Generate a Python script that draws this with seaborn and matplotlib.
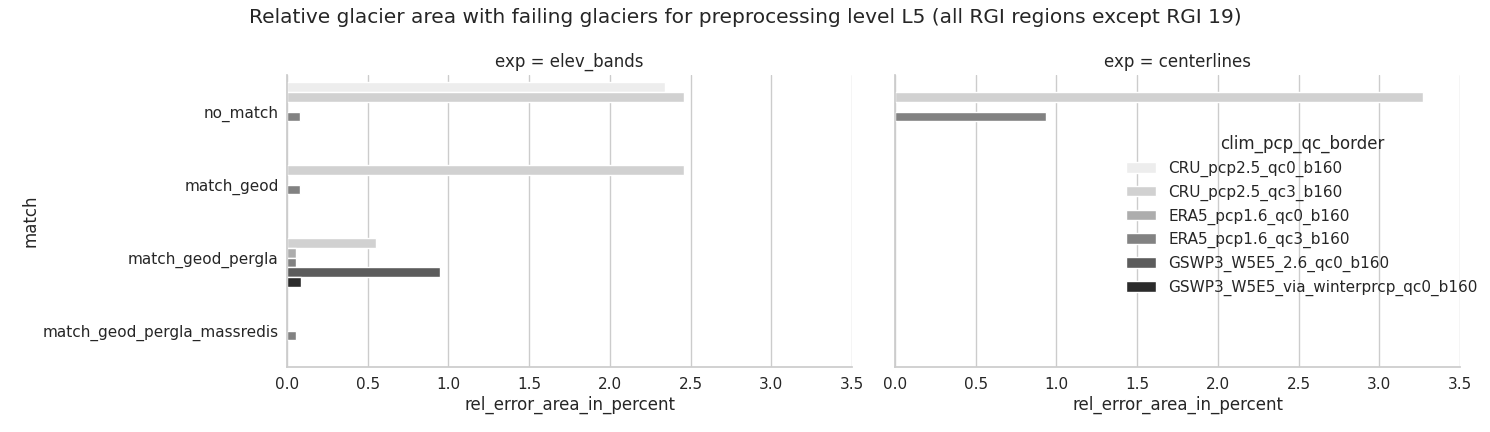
import matplotlib
matplotlib.use("Agg")
import matplotlib.pyplot as plt
import seaborn as sns
import pandas as pd

match_order = ["no_match", "match_geod", "match_geod_pergla", "match_geod_pergla_massredis"]
hue_order = ["CRU_pcp2.5_qc0_b160", "CRU_pcp2.5_qc3_b160", "ERA5_pcp1.6_qc0_b160",
             "ERA5_pcp1.6_qc3_b160", "GSWP3_W5E5_2.6_qc0_b160", "GSWP3_W5E5_via_winterprcp_qc0_b160"]
exp_order = ["elev_bands", "centerlines"]

match = ["no_match", "no_match", "no_match",
         "match_geod", "match_geod",
         "match_geod_pergla", "match_geod_pergla", "match_geod_pergla",
         "match_geod_pergla", "match_geod_pergla",
         "match_geod_pergla_massredis",
         "no_match", "no_match"]
clim = ["CRU_pcp2.5_qc0_b160", "CRU_pcp2.5_qc3_b160", "ERA5_pcp1.6_qc3_b160",
        "CRU_pcp2.5_qc3_b160", "ERA5_pcp1.6_qc3_b160",
        "CRU_pcp2.5_qc3_b160", "ERA5_pcp1.6_qc0_b160", "ERA5_pcp1.6_qc3_b160",
        "GSWP3_W5E5_2.6_qc0_b160", "GSWP3_W5E5_via_winterprcp_qc0_b160",
        "ERA5_pcp1.6_qc3_b160",
        "CRU_pcp2.5_qc3_b160", "ERA5_pcp1.6_qc3_b160"]
rel_error = [2.34, 2.46, 0.078,
             2.46, 0.078,
             0.549, 0.053, 0.053, 0.945, 0.085,
             0.053,
             3.27, 0.934]
exp = ["elev_bands"] * 11 + ["centerlines"] * 2

df = pd.DataFrame({"exp": exp, "match": match, "clim_pcp_qc_border": clim,
                   "rel_error_area_in_percent": rel_error})

sns.set_theme(style="whitegrid")
plt.rcParams["ytick.major.pad"] = 0
plt.rcParams["xtick.major.pad"] = 1.3
plt.rcParams["axes.labelpad"] = 2.5
g = sns.catplot(data=df, kind="bar", y="match", x="rel_error_area_in_percent",
                hue="clim_pcp_qc_border", col="exp", col_order=exp_order,
                order=match_order, hue_order=hue_order, palette="Greys",
                errorbar=None, height=4.32, aspect=1.5)
g.figure.set_size_inches(14.9, 4.32)
g.set(xlim=(0, 3.5))
g.figure.subplots_adjust(left=287/1490, right=1460/1490, top=1-75/432,
                         bottom=1-367/432, wspace=43/565)
g.figure.suptitle("Relative glacier area with failing glaciers for preprocessing level L5 "
                  "(all RGI regions except RGI 19)", fontsize=14.5, y=1-8/432, va="top")
sns.move_legend(g, loc="upper left", bbox_to_anchor=(1112/1490, 1-121/432))
g.figure.savefig("out.png", dpi=100)
